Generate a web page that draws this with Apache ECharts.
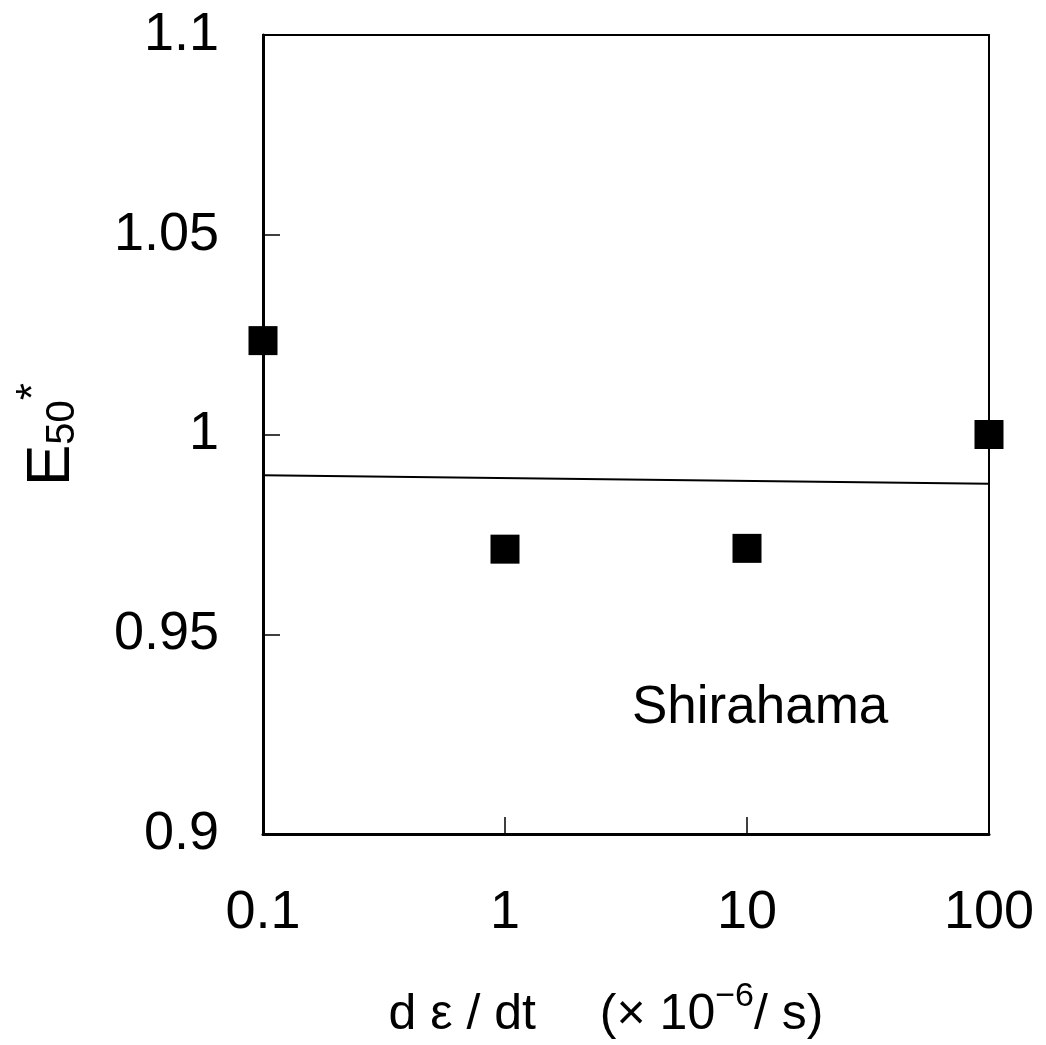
<!DOCTYPE html>
<html><head><meta charset="utf-8">
<script src="https://cdn.jsdelivr.net/npm/echarts@6/dist/echarts.min.js"></script>
<style>html,body{margin:0;padding:0;background:#fff}#c{width:1046px;height:1045px}</style>
</head><body><div id="c"></div>
<script>
const strainRates = [0.1, 1, 10, 100];
const e50Values = [1.0235, 0.9713, 0.9715, 1.0];
const fitLine = [[0.1, 0.9898], [100, 0.9877]];
const yTicks = [0.9, 0.95, 1, 1.05, 1.1];
const siteLabel = 'Shirahama';

const F = '"Liberation Sans", Arial, sans-serif';
const chart = echarts.init(document.getElementById('c'));
chart.setOption({
  backgroundColor: '#fff',
  animation: false,
  grid: {left: 263, right: 57, top: 35, bottom: 211, containLabel: false, outerBoundsMode: 'none'},
  xAxis: [{
    type: 'log', logBase: 10, min: 0.1, max: 100,
    axisLine: {show: true, lineStyle: {color: '#000', width: 3}},
    axisTick: {show: true, inside: true, length: 17, lineStyle: {color: '#000', width: 1.5}},
    splitLine: {show: false}, minorTick: {show: false},
    axisLabel: {color: '#000', fontFamily: F, fontSize: 54, margin: 52,
      formatter: v => String(+v.toPrecision(3))},
    name: '{a|d ε / dt\u3000 (× 10}{s|−6}{a|/ s)}',
    nameLocation: 'middle', nameGap: 146,
    nameTextStyle: {padding: [0, 40, 0, 0], rich: {
      a: {fontFamily: F, fontSize: 50, color: '#000', verticalAlign: 'bottom', lineHeight: 60},
      s: {fontFamily: F, fontSize: 34, color: '#000', verticalAlign: 'top', lineHeight: 60, padding: [0, 0, 22, 0]}
    }}
  }, {
    type: 'log', logBase: 10, min: 0.1, max: 100, position: 'top',
    axisLine: {show: true, lineStyle: {color: '#000', width: 2}},
    axisTick: {show: false}, axisLabel: {show: false}, splitLine: {show: false}
  }],
  yAxis: [{
    type: 'value', min: 0.9, max: 1.1, interval: 0.05,
    axisLine: {show: true, lineStyle: {color: '#000', width: 3}},
    axisTick: {show: true, inside: true, length: 17, lineStyle: {color: '#000', width: 1.5}},
    splitLine: {show: false},
    axisLabel: {color: '#000', fontFamily: F, fontSize: 54, margin: 44,
      formatter: v => { const t = yTicks.find(x => Math.abs(x - v) < 1e-6); return t === undefined ? '' : String(t); }},
    name: '{a|E}{s|50}{t|*}',
    nameLocation: 'middle', nameGap: 180, nameRotate: 90,
    nameTextStyle: {rich: {
      a: {fontFamily: F, fontSize: 62, color: '#000', verticalAlign: 'bottom', lineHeight: 70},
      s: {fontFamily: F, fontSize: 40, color: '#000', verticalAlign: 'bottom', lineHeight: 70},
      t: {fontFamily: F, fontSize: 44, color: '#000', verticalAlign: 'top', lineHeight: 70, padding: [0, 0, 30, 0]}
    }}
  }, {
    type: 'value', min: 0.9, max: 1.1, interval: 0.05, position: 'right',
    axisLine: {show: true, lineStyle: {color: '#000', width: 2}},
    axisTick: {show: false}, axisLabel: {show: false}, splitLine: {show: false}
  }],
  graphic: [{
    type: 'text', left: 632, top: 682,
    style: {text: siteLabel, fontFamily: F, fontSize: 53, fill: '#000'}
  }],
  series: [{
    type: 'line', data: fitLine, symbol: 'none',
    lineStyle: {color: '#000', width: 2}, z: 2
  }, {
    type: 'scatter', data: strainRates.map((x, i) => [x, e50Values[i]]),
    symbol: 'rect', symbolSize: 29, itemStyle: {color: '#000', opacity: 1}, z: 3
  }]
});
</script></body></html>
